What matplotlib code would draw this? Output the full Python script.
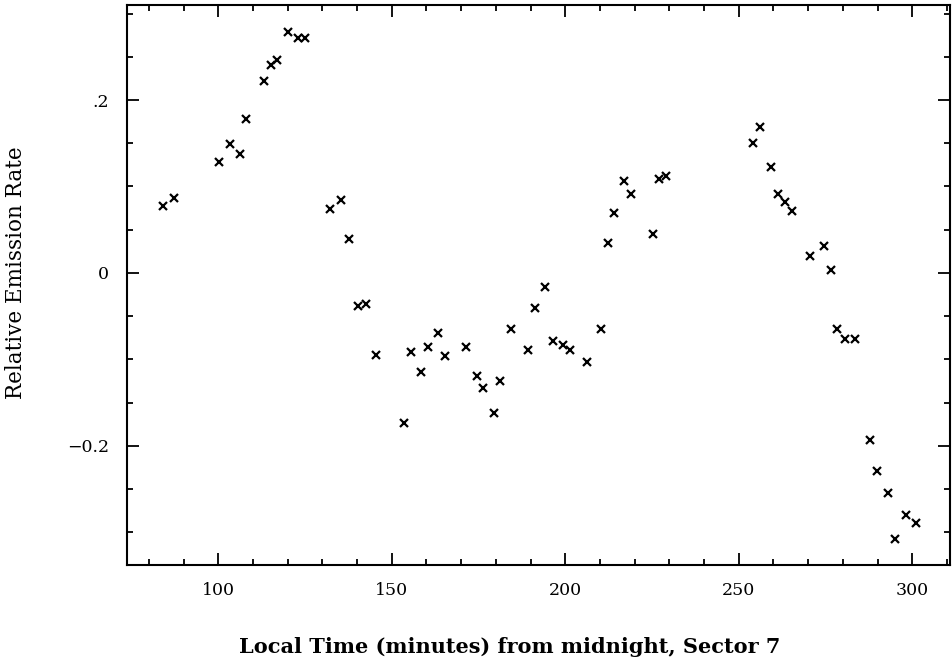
import matplotlib
matplotlib.use("Agg")
import matplotlib.pyplot as plt
from matplotlib.ticker import MultipleLocator

# local time (minutes from midnight) and relative emission rate, sector 7
minutes = [84.2, 87.3, 100.3, 103.3, 106.3, 108.0, 113.1, 115.1, 117.0, 120.0,
           123.1, 125.0, 132.2, 135.4, 137.6, 140.3, 142.6, 145.4, 153.5, 155.4,
           158.5, 160.3, 163.2, 165.3, 171.3, 174.6, 176.4, 179.5, 181.3, 184.3,
           189.3, 191.4, 194.2, 196.4, 199.3, 201.4, 206.2, 210.3, 212.2, 214.0,
           217.0, 219.0, 225.3, 227.1, 228.9, 254.2, 256.1, 259.2, 261.2, 263.4,
           265.2, 270.5, 274.6, 276.5, 278.4, 280.6, 283.5, 287.8, 289.7, 292.9,
           295.0, 298.1, 301.0]
rate = [0.077, 0.087, 0.128, 0.149, 0.137, 0.178, 0.222, 0.241, 0.246, 0.279,
        0.272, 0.272, 0.074, 0.084, 0.039, -0.0385, -0.0355, -0.095, -0.174, -0.092,
        -0.115, -0.086, -0.070, -0.096, -0.086, -0.119, -0.133, -0.162, -0.125, -0.0655,
        -0.089, -0.041, -0.0166, -0.079, -0.083, -0.089, -0.103, -0.0655, 0.035, 0.069,
        0.1065, 0.091, 0.045, 0.109, 0.112, 0.150, 0.169, 0.122, 0.091, 0.0815,
        0.072, 0.019, 0.031, 0.003, -0.0655, -0.076, -0.076, -0.193, -0.2295, -0.255,
        -0.308, -0.280, -0.289]

xticks = [100, 150, 200, 250, 300]
yticks = [-0.2, 0, 0.2]
ytick_labels = ["\u22120.2", "0", ".2"]

fig = plt.figure(figsize=(9.52, 6.63), dpi=100)
ax = fig.add_axes([0.1334, 0.1478, 0.865, 0.8447])

ax.plot(minutes, rate, linestyle="none", marker="x", ms=5.5, mew=1.6, color="black")

ax.set_xlim(73.7, 311)
ax.set_ylim(-0.338, 0.31)

ax.set_xticks(xticks)
ax.set_yticks(yticks)
ax.set_yticklabels(ytick_labels)
ax.xaxis.set_minor_locator(MultipleLocator(10))
ax.yaxis.set_minor_locator(MultipleLocator(0.05))

ax.tick_params(which="both", direction="in", top=True, right=True, width=1.3,
               colors="black")
ax.tick_params(which="major", length=8.6)
ax.tick_params(which="minor", length=4.3)
ax.tick_params(axis="x", which="major", pad=12)
ax.tick_params(axis="y", which="major", pad=13)
for lbl in ax.get_xticklabels() + ax.get_yticklabels():
    lbl.set_family("DejaVu Serif")
    lbl.set_fontsize(12.5)

for s in ax.spines.values():
    s.set_linewidth(1.5)

# axis titles placed in figure coordinates
fig.text(510 / 952, 1 - 647 / 663, "Local Time (minutes) from midnight, Sector 7",
         family="DejaVu Serif", fontweight="bold", fontsize=15,
         ha="center", va="center")
fig.text(16 / 952, 1 - 273 / 663, "Relative Emission Rate",
         family="DejaVu Serif", fontsize=15.5, rotation=90,
         ha="center", va="center")

fig.savefig("out.png", dpi=100)
